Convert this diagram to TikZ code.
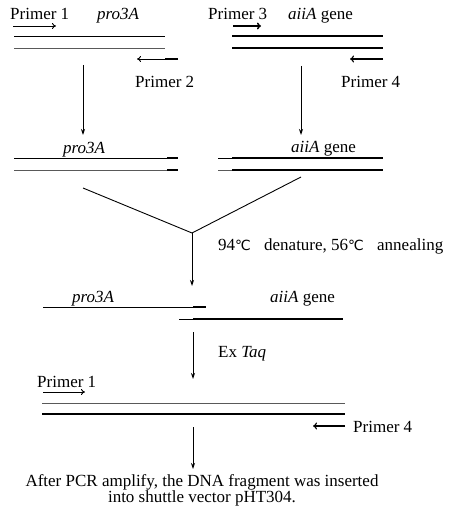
\documentclass[tikz,border=0pt]{standalone}
\usepackage{fontspec}
\setmainfont{Liberation Serif}
\newfontfamily\symfont{DejaVu Sans}
\usetikzlibrary{arrows.meta}
\newcommand{\degC}{{\symfont\fontsize{14pt}{16pt}\selectfont ℃}}
\tikzset{
  lbl/.style={anchor=base west, inner sep=0pt, font=\fontsize{17pt}{19pt}\selectfont},
  thin strand/.style={line width=0.9pt},
  thick strand/.style={line width=2.2pt},
  gray strand/.style={line width=0.9pt, draw=black!65},
  primer/.style={line width=0.9pt, -{To[length=4pt,width=6pt]}},
  bold primer/.style={line width=1.5pt, -{To[length=4pt,width=7pt]}},
  flow/.style={line width=0.9pt, -{Stealth[length=6pt,width=4pt]}},
  vline/.style={line width=0.9pt}
}
\begin{document}
\begin{tikzpicture}[x=1pt,y=-1pt]
\useasboundingbox (0,0) rectangle (452,519);
% ---------- top left ----------
\node[lbl] (tP1) at (10,20) {Primer 1};
\node[lbl] (tpro1) at (97,20) {\itshape pro3A};
\coordinate (p1a) at (13,26); \coordinate (p1b) at (56,26);
\draw[primer] (p1a) -- (p1b);
\coordinate (s1a) at (14,36); \coordinate (s1b) at (165,36);
\coordinate (s2a) at (14,48); \coordinate (s2b) at (165,48);
\draw[thin strand] (s1a) -- (s1b);
\draw[gray strand] (s2a) -- (s2b);
\coordinate (p2a) at (178,59); \coordinate (p2m) at (165,59); \coordinate (p2b) at (137,59);
\draw[line width=2.2pt] (p2a) -- (p2m);
\draw[primer] (p2m) -- (p2b);
\node[lbl] (tP2) at (135,88) {Primer 2};
\coordinate (va1) at (83,65); \coordinate (vb1) at (83,135);
\draw[flow] (va1) -- (vb1);
% ---------- top right ----------
\node[lbl] (tP3) at (208,20) {Primer 3};
\node[lbl] (taii1) at (288,20) {\itshape aiiA\upshape\ gene};
\coordinate (p3a) at (233,26); \coordinate (p3b) at (261,26);
\draw[bold primer] (p3a) -- (p3b);
\coordinate (r1a) at (232,36); \coordinate (r1b) at (383,36);
\coordinate (r2a) at (232,48); \coordinate (r2b) at (383,48);
\draw[thick strand] (r1a) -- (r1b);
\draw[thick strand] (r2a) -- (r2b);
\coordinate (p4a) at (383,59); \coordinate (p4b) at (350,59);
\draw[bold primer, line width=1.1pt] (p4a) -- (p4b);
\node[lbl] (tP4) at (341,88) {Primer 4};
\coordinate (va2) at (301,66); \coordinate (vb2) at (301,135);
\draw[flow] (va2) -- (vb2);
% ---------- middle row ----------
\node[lbl] (tpro2) at (63,153) {\itshape pro3A};
\coordinate (m1a) at (14,158); \coordinate (m1m) at (167,158); \coordinate (m1b) at (178,158);
\coordinate (m2a) at (14,170); \coordinate (m2m) at (167,170); \coordinate (m2b) at (178,170);
\draw[thin strand] (m1a) -- (m1m);
\draw[thick strand] (m1m) -- (m1b);
\draw[gray strand] (m2a) -- (m2m);
\draw[thick strand] (m2m) -- (m2b);
\node[lbl] (taii2) at (291,152) {\itshape aiiA\upshape\ gene};
\coordinate (n1a) at (218,158); \coordinate (n1m) at (232,158); \coordinate (n1b) at (383,158);
\coordinate (n2a) at (218,170); \coordinate (n2m) at (232,170); \coordinate (n2b) at (383,170);
\draw[thin strand] (n1a) -- (n1m);
\draw[thick strand] (n1m) -- (n1b);
\draw[gray strand] (n2a) -- (n2m);
\draw[thick strand] (n2m) -- (n2b);
% ---------- merge ----------
\coordinate (vl) at (83,188); \coordinate (vr) at (301,177); \coordinate (apex) at (192,233);
\draw[vline] (vl) -- (apex) -- (vr);
\coordinate (af) at (192,286);
\draw[flow] (apex) -- (af);
\node[lbl] (tden) at (218,250) {94\degC\hspace{9pt} denature, 56\degC\hspace{9pt} annealing};
% ---------- annealed ----------
\node[lbl] (tpro3) at (72,302) {\itshape pro3A};
\node[lbl] (taii3) at (270,302) {\itshape aiiA\upshape\ gene};
\coordinate (h1a) at (43,307); \coordinate (h1m) at (193,307); \coordinate (h1b) at (206,307);
\draw[thin strand] (h1a) -- (h1m);
\draw[thick strand] (h1m) -- (h1b);
\coordinate (h2a) at (179,319); \coordinate (h2m) at (193,319); \coordinate (h2b) at (343,319);
\draw[thin strand] (h2a) -- (h2m);
\draw[thick strand] (h2m) -- (h2b);
\coordinate (ta) at (193,332); \coordinate (tb) at (193,379);
\draw[flow] (ta) -- (tb);
\node[lbl] (ttaq) at (218,357) {Ex \itshape Taq};
% ---------- product ----------
\node[lbl] (tP1b) at (37,387) {Primer 1};
\coordinate (q1a) at (43,392); \coordinate (q1b) at (85,392);
\draw[primer] (q1a) -- (q1b);
\coordinate (f1a) at (42,403); \coordinate (f1b) at (345,403);
\coordinate (f2a) at (42,414); \coordinate (f2b) at (345,414);
\draw[gray strand] (f1a) -- (f1b);
\draw[line width=1.3pt] (f2a) -- (f2b);
\coordinate (q4a) at (345,426); \coordinate (q4b) at (313,426);
\draw[bold primer, line width=1.1pt] (q4a) -- (q4b);
\node[lbl] (tP4b) at (353,432) {Primer 4};
\coordinate (ea) at (193,427); \coordinate (eb) at (193,469);
\draw[flow] (ea) -- (eb);
\node[anchor=base, inner sep=0pt, align=center, font=\fontsize{17pt}{16pt}\selectfont] (tfinal) at (202,502)
  {After PCR amplify, the DNA fragment was inserted\\ into shuttle vector pHT304.};
\end{tikzpicture}
\end{document}
